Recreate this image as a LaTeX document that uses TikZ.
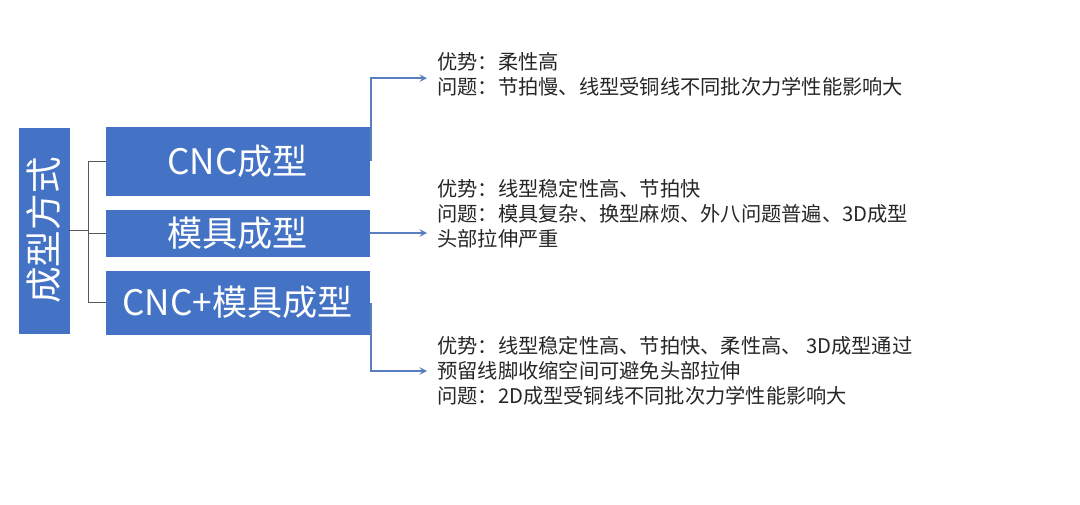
\documentclass[tikz,border=0pt]{standalone}
\usepackage{fontspec}
\setmainfont{Noto Sans CJK SC}
\usepackage{xcolor}
\usetikzlibrary{arrows, positioning, calc}

\definecolor{boxblue}{HTML}{4472C4}
\definecolor{linkblue}{HTML}{5A7FC0}

\begin{document}
\begin{tikzpicture}[x=0.025cm, y=-0.025cm,
    box/.style={draw=boxblue, fill=boxblue, text=white, minimum width=6.575cm, inner sep=0pt, font=\fontsize{25}{30}\selectfont},
    note/.style={anchor=west, align=left, inner sep=0pt, font=\fontsize{14.4}{17.8}\selectfont, text=black!85},
    wire/.style={draw=black!65, line width=0.6pt},
    link/.style={draw=linkblue, line width=1.3pt, -stealth, shorten >=0.25cm}
]
\useasboundingbox (0,0) rectangle (1080,505);

% root
\node[box, minimum width=5.125cm, minimum height=1.25cm, rotate=90, font=\fontsize{26}{30}\selectfont] (root) at (44,230.5) {成型方式};

% methods
\node[box, minimum height=1.7cm] (cnc) at (237.5,161) {CNC成型};
\node[box, minimum height=1.15cm] (mold) at (237.5,233) {模具成型};
\node[box, minimum height=1.575cm] (combo) at (237.5,302.5) {CNC+模具成型};

% tree from root
\coordinate (bus) at (88,230);
\draw[wire] (root.south) -- (root.south -| bus);
\draw[wire] (cnc.west) -| (bus |- combo.west) -- (combo.west);
\draw[wire] (bus |- mold.west) -- (mold.west);

% notes
\node[note] (t1) at (437,74) {优势：柔性高\\问题：节拍慢、线型受铜线不同批次力学性能影响大};
\node[note] (t2) at (437,214) {优势：线型稳定性高、节拍快\\问题：模具复杂、换型麻烦、外八问题普遍、3D成型\\头部拉伸严重};
\node[note] (t3) at (437,371) {优势：线型稳定性高、节拍快、柔性高、 3D成型通过\\预留线脚收缩空间可避免头部拉伸\\问题：2D成型受铜线不同批次力学性能影响大};

% arrows to notes
\draw[link] ([xshift=1pt]cnc.east) |- ([yshift=-3pt]t1.west);
\draw[link] (mold.east) -- (mold.east -| t1.west);
\draw[link] ([xshift=1pt]combo.east) |- (t3.west);

\end{tikzpicture}
\end{document}
